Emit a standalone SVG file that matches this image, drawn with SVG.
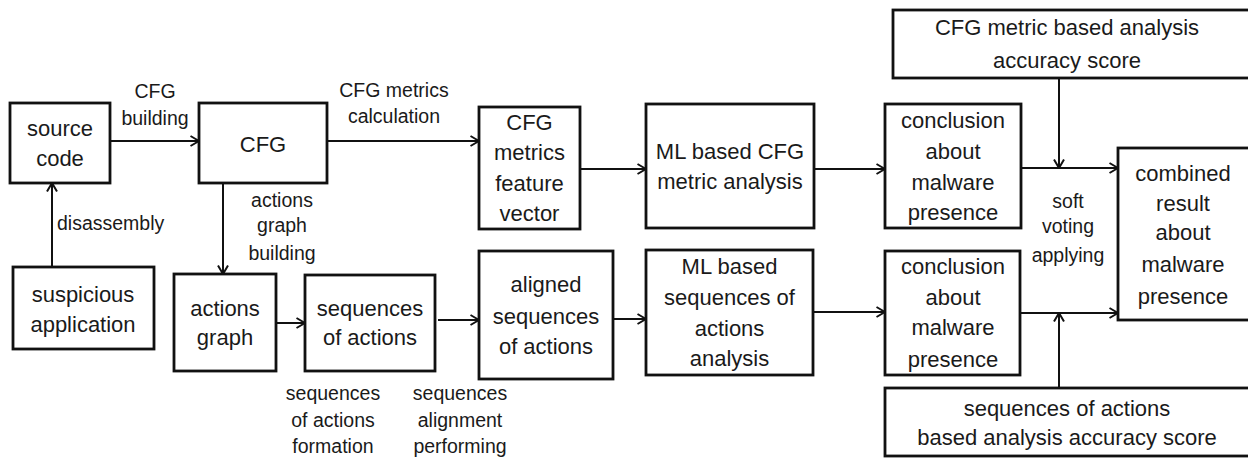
<svg xmlns="http://www.w3.org/2000/svg" width="1248" height="459" viewBox="0 0 1248 459">
  <defs>
    <marker id="arrow" viewBox="0 0 10 12" refX="9.5" refY="6" markerWidth="10" markerHeight="12" markerUnits="userSpaceOnUse" orient="auto">
      <path d="M1,1 L9.5,6 L1,11" fill="none" stroke="#111" stroke-width="2"/>
    </marker>
    <style>
      .box { fill: #fff; stroke: #111; stroke-width: 2.8; }
      .t { font-family: "Liberation Sans", Arial, sans-serif; font-size: 22px; fill: #1a1a1a; text-anchor: middle; }
      .lbl { font-family: "Liberation Sans", Arial, sans-serif; font-size: 19.5px; fill: #1a1a1a; text-anchor: middle; }
      .edge { fill: none; stroke: #111; stroke-width: 2; }
    </style>
  </defs>
  <rect width="1248" height="459" fill="#fff"/>

  <!-- connectors -->
  <g id="connectors">
    <path class="edge" d="M110,141 H199" marker-end="url(#arrow)"/>
    <path class="edge" d="M52,267 V183" marker-end="url(#arrow)"/>
    <path class="edge" d="M327,141 H479" marker-end="url(#arrow)"/>
    <path class="edge" d="M223,183 V274" marker-end="url(#arrow)"/>
    <path class="edge" d="M276,323 H305" marker-end="url(#arrow)"/>
    <path class="edge" d="M438,320 H479" marker-end="url(#arrow)"/>
    <path class="edge" d="M613,319 H646" marker-end="url(#arrow)"/>
    <path class="edge" d="M580,169 H646" marker-end="url(#arrow)"/>
    <path class="edge" d="M814,169 H885" marker-end="url(#arrow)"/>
    <path class="edge" d="M813,312 H885" marker-end="url(#arrow)"/>
    <path class="edge" d="M1021,168 H1118" marker-end="url(#arrow)"/>
    <path class="edge" d="M1020,313 H1118" marker-end="url(#arrow)"/>
    <path class="edge" d="M1059,78 V168" marker-end="url(#arrow)"/>
    <path class="edge" d="M1059,388 V313" marker-end="url(#arrow)"/>
    <!-- connector labels -->
    <text class="lbl" x="155" y="98">CFG</text>
    <text class="lbl" x="155" y="125">building</text>
    <text class="lbl" x="394" y="97">CFG metrics</text>
    <text class="lbl" x="394" y="123">calculation</text>
    <text class="lbl" x="57" y="229.5" style="text-anchor:start">disassembly</text>
    <text class="lbl" x="282" y="206.5">actions</text>
    <text class="lbl" x="282" y="231.5">graph</text>
    <text class="lbl" x="282" y="259.5">building</text>
    <text class="lbl" x="333" y="399.5">sequences</text>
    <text class="lbl" x="333" y="426.5">of actions</text>
    <text class="lbl" x="333" y="453">formation</text>
    <text class="lbl" x="460" y="399.5">sequences</text>
    <text class="lbl" x="460" y="426.5">alignment</text>
    <text class="lbl" x="460" y="453">performing</text>
    <text class="lbl" x="1068" y="207.5">soft</text>
    <text class="lbl" x="1068" y="233">voting</text>
    <text class="lbl" x="1068" y="261.5">applying</text>
  </g>

  <g id="source-code">
    <rect class="box" x="10" y="103" width="100" height="80"/>
    <text class="t" x="60" y="136">source</text>
    <text class="t" x="60" y="166">code</text>
  </g>

  <g id="suspicious-application">
    <rect class="box" x="13" y="267" width="141" height="82"/>
    <text class="t" x="83" y="302">suspicious</text>
    <text class="t" x="83" y="332">application</text>
  </g>

  <g id="cfg">
    <rect class="box" x="199" y="103" width="128" height="80"/>
    <text class="t" x="263" y="152">CFG</text>
  </g>

  <g id="cfg-metrics-feature-vector">
    <rect class="box" x="479" y="107" width="101" height="122"/>
    <text class="t" x="529.5" y="130">CFG</text>
    <text class="t" x="529.5" y="160">metrics</text>
    <text class="t" x="529.5" y="191">feature</text>
    <text class="t" x="529.5" y="221">vector</text>
  </g>

  <g id="ml-cfg-analysis">
    <rect class="box" x="646" y="104" width="168" height="124"/>
    <text class="t" x="730" y="159">ML based CFG</text>
    <text class="t" x="730" y="189">metric analysis</text>
  </g>

  <g id="conclusion-cfg">
    <rect class="box" x="885" y="104" width="136" height="124"/>
    <text class="t" x="953" y="128">conclusion</text>
    <text class="t" x="953" y="159">about</text>
    <text class="t" x="953" y="190">malware</text>
    <text class="t" x="953" y="220">presence</text>
  </g>

  <g id="cfg-accuracy-score">
    <rect class="box" x="893" y="10" width="370" height="68"/>
    <text class="t" x="1067" y="35">CFG metric based analysis</text>
    <text class="t" x="1067" y="68">accuracy score</text>
  </g>

  <g id="combined-result">
    <rect class="box" x="1118" y="148" width="145" height="172"/>
    <text class="t" x="1183" y="181">combined</text>
    <text class="t" x="1183" y="211">result</text>
    <text class="t" x="1183" y="240">about</text>
    <text class="t" x="1183" y="272">malware</text>
    <text class="t" x="1183" y="304">presence</text>
  </g>

  <g id="actions-graph">
    <rect class="box" x="174" y="274" width="102" height="97"/>
    <text class="t" x="225" y="316">actions</text>
    <text class="t" x="225" y="345">graph</text>
  </g>

  <g id="sequences-of-actions">
    <rect class="box" x="305" y="275" width="130" height="96"/>
    <text class="t" x="370" y="316">sequences</text>
    <text class="t" x="370" y="345">of actions</text>
  </g>

  <g id="aligned-sequences">
    <rect class="box" x="479" y="251" width="134" height="128"/>
    <text class="t" x="546" y="292">aligned</text>
    <text class="t" x="546" y="324">sequences</text>
    <text class="t" x="546" y="354">of actions</text>
  </g>

  <g id="ml-sequences-analysis">
    <rect class="box" x="646" y="250" width="167" height="125"/>
    <text class="t" x="729.5" y="274">ML based</text>
    <text class="t" x="729.5" y="305">sequences of</text>
    <text class="t" x="729.5" y="336">actions</text>
    <text class="t" x="729.5" y="366">analysis</text>
  </g>

  <g id="conclusion-sequences">
    <rect class="box" x="885" y="251" width="135" height="124"/>
    <text class="t" x="953" y="274">conclusion</text>
    <text class="t" x="953" y="305">about</text>
    <text class="t" x="953" y="335">malware</text>
    <text class="t" x="953" y="367">presence</text>
  </g>

  <g id="sequences-accuracy-score">
    <rect class="box" x="885" y="388" width="378" height="68"/>
    <text class="t" x="1067" y="416">sequences of actions</text>
    <text class="t" x="1067" y="445">based analysis accuracy score</text>
  </g>
</svg>
